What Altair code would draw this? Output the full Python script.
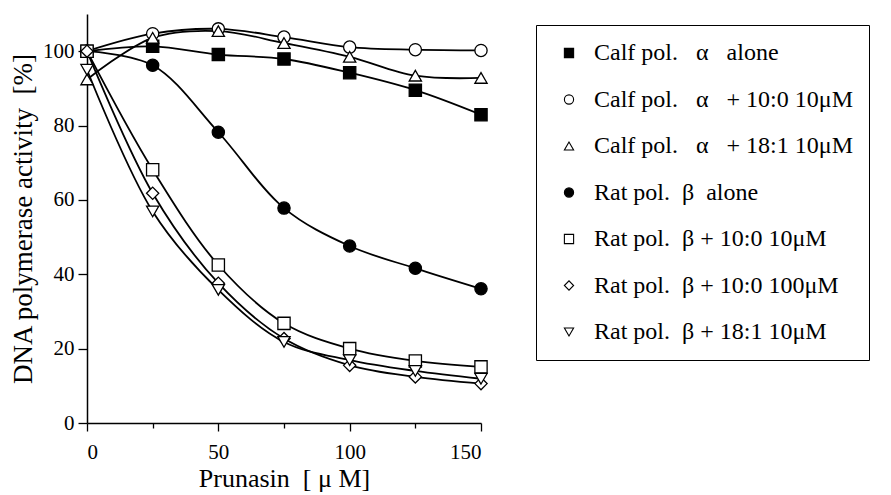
import altair as alt
import pandas as pd

conc = [0, 25, 50, 75, 100, 125, 150]

NB = "\u00a0"
series_names = [
    f"Calf pol.{NB}{NB} α {NB}{NB}alone",
    f"Calf pol.{NB}{NB} α {NB}{NB}+ 10:0 10μM",
    f"Calf pol.{NB}{NB} α {NB}{NB}+ 18:1 10μM",
    f"Rat pol.{NB} β {NB}alone",
    f"Rat pol.{NB} β + 10:0 10μM",
    f"Rat pol.{NB} β + 10:0 100μM",
    f"Rat pol.{NB} β + 18:1 10μM",
]

calf_alone = [100, 101.3, 99.1, 97.9, 94.2, 89.5, 82.9]
calf_100 = [100, 104.7, 106.0, 103.8, 101.1, 100.4, 100.2]
calf_181 = [92.4, 103.6, 105.4, 102.2, 98.5, 93.4, 92.8]
rat_alone = [100, 96.2, 78.2, 57.8, 47.6, 41.6, 36.1]
rat_100_10 = [100, 68.1, 42.5, 26.8, 20.0, 16.7, 15.1]
rat_100_100 = [100, 61.8, 37.6, 22.7, 15.5, 12.4, 10.6]
rat_181 = [95.0, 56.9, 35.8, 21.8, 16.9, 14.0, 11.9]

values = [calf_alone, calf_100, calf_181, rat_alone, rat_100_10, rat_100_100, rat_181]

shapes = ["square", "circle", "triangle-up", "circle", "square", "diamond", "triangle-down"]
fills = ["black", "white", "white", "black", "white", "white", "white"]
strokes = ["black"] * 7

rows = []
for name, vals in zip(series_names, values):
    for c, v in zip(conc, vals):
        rows.append({"series": name, "conc": c, "activity": v})
df = pd.DataFrame(rows)

FONT = "Liberation Serif"

x_enc = alt.X(
    "conc:Q",
    scale=alt.Scale(domain=[0, 150], nice=False, zero=False),
    axis=alt.Axis(
        values=[0, 25, 50, 75, 100, 125, 150],
        labelExpr="datum.value % 50 == 0 ? datum.label : ''",
        tickSize={"condition": {"test": "datum.value % 50 == 0", "value": 8}, "value": 5},
        title=f"Prunasin {NB}[ μ M]",
        titleFont=FONT, titleFontSize=26, titleFontWeight="normal", titleColor="black",
        labelFont=FONT, labelFontSize=21, labelColor="black", labelPadding=10,
        domainColor="black", tickColor="black", domainWidth=1.5, tickWidth=1.3,
        grid=False, titlePadding=3,
    ),
)
y_enc = alt.Y(
    "activity:Q",
    scale=alt.Scale(domain=[0, 110], nice=False),
    axis=alt.Axis(
        values=[0, 10, 20, 30, 40, 50, 60, 70, 80, 90, 100, 110],
        labelExpr="(datum.value % 20 == 0 && datum.value <= 100) ? datum.label : ''",
        tickSize={"condition": {"test": "datum.value % 20 == 0 && datum.value <= 100", "value": 9}, "value": 5},
        title=f"DNA polymerase activity {NB}[%]",
        titleFont=FONT, titleFontSize=27, titleFontWeight="normal", titleColor="black",
        labelFont=FONT, labelFontSize=21, labelColor="black", labelPadding=4,
        domainColor="black", tickColor="black", domainWidth=1.5, tickWidth=1.3,
        grid=False, titlePadding=5,
    ),
)

lines = alt.Chart(df).mark_line(
    interpolate="catmull-rom", color="black", strokeWidth=1.8
).encode(x=x_enc, y=y_enc, detail="series:N")

legend = alt.Legend(
    title=None,
    orient="none",
    legendX=449,
    legendY=11,
    strokeColor="black",
    padding=16,
    symbolOffset=5,
    rowPadding=22.5,
    labelFont=FONT,
    labelFontSize=24,
    labelColor="black",
    labelLimit=400,
    labelOffset=13,
    symbolSize=85,
    symbolStrokeWidth=1.1,
)

points = alt.Chart(df).mark_point(
    filled=False, size=150, stroke="black", strokeWidth=1.3, opacity=1
).encode(
    x="conc:Q",
    y="activity:Q",
    shape=alt.Shape("series:N", sort=series_names,
                    scale=alt.Scale(domain=series_names, range=shapes), legend=legend),
    fill=alt.Fill("series:N", sort=series_names,
                  scale=alt.Scale(domain=series_names, range=fills), legend=legend),
    stroke=alt.Stroke("series:N", sort=series_names,
                      scale=alt.Scale(domain=series_names, range=strokes), legend=legend),
)

chart = alt.layer(lines, points).properties(
    width=394, height=409,
    padding={"left": 87, "top": 14, "right": 410, "bottom": 72},
    autosize=alt.AutoSizeParams(type="none"),
    background="white",
).configure_view(stroke=None)

chart.save("out.html", embed_options={"renderer": "svg", "actions": False})
